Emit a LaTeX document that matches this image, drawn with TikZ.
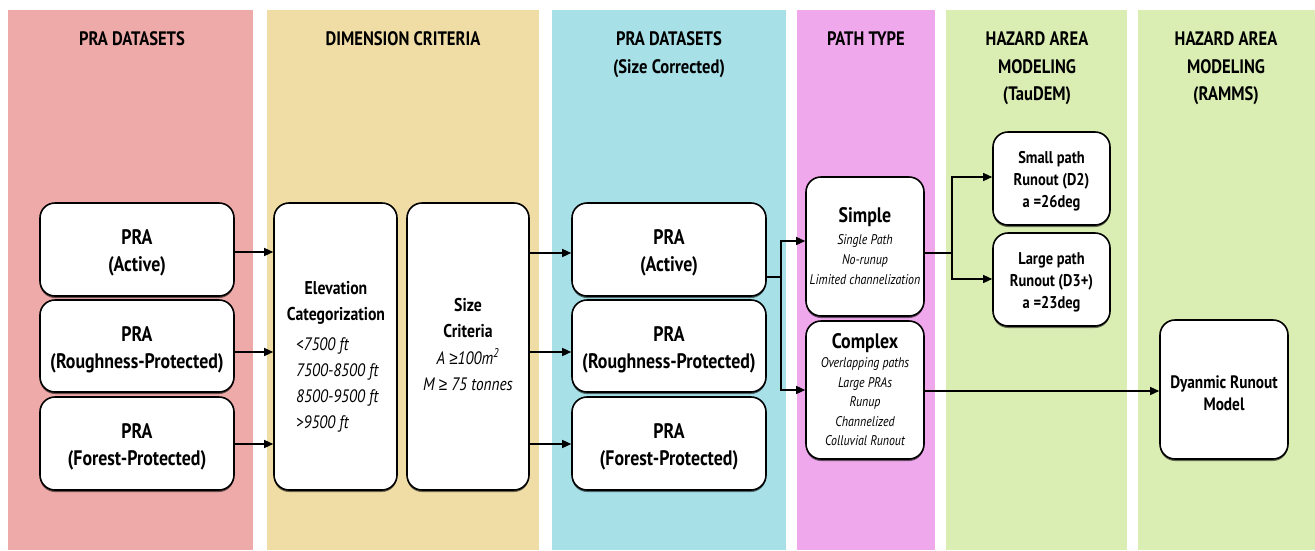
\documentclass[tikz,border=0pt]{standalone}
\usepackage{fontspec}
\setmainfont{PT Sans}[FakeStretch=0.85]
\newfontfamily\symf{Liberation Sans}[FakeStretch=0.85]
\usetikzlibrary{arrows.meta,shadows}
\definecolor{colA}{RGB}{237,170,168}
\definecolor{colB}{RGB}{240,221,165}
\definecolor{colC}{RGB}{168,224,232}
\definecolor{colD}{RGB}{240,168,236}
\definecolor{colE}{RGB}{218,238,179}
\newcommand{\bigf}{\fontsize{18.5}{26.5}\selectfont\bfseries\upshape}
\newcommand{\itf}{\fontsize{18}{26}\selectfont\mdseries\itshape}
\newcommand{\smit}{\fontsize{14}{20}\selectfont\mdseries\itshape}
\newcommand{\geqs}{{\symf\itshape ≥}}
\newcommand{\strutup}[1]{\rule{0pt}{#1}}
\tikzset{
  hdr/.style={font=\fontsize{19.5}{27.5}\selectfont\bfseries, align=center, anchor=north, inner sep=0pt},
  box/.style={draw=black, line width=1.6pt, rounded corners=15pt, fill=white, inner sep=2pt,
    align=center, drop shadow={shadow xshift=0pt, shadow yshift=-2pt, opacity=.55, fill=black}},
  big/.style={font=\fontsize{21}{27}\selectfont\bfseries},
  mid/.style={font=\fontsize{17}{22}\selectfont\bfseries},
  itl/.style={font=\fontsize{18}{26}\selectfont\itshape, inner sep=0pt},
  arr/.style={line width=1.4pt, -{Triangle[length=9pt,width=8pt]}},
  ln/.style={line width=1.4pt}
}
\begin{document}
\begin{tikzpicture}[x=1pt,y=-1pt]
\useasboundingbox (0,0) rectangle (1315,550);
\fill[white] (0,0) rectangle (1315,550);
\fill[colA] (8,10) rectangle (253,550);
\fill[colB] (267,10) rectangle (539,550);
\fill[colC] (552,10) rectangle (786,550);
\fill[colD] (797,10) rectangle (935,550);
\fill[colE] (946,10) rectangle (1127,550);
\fill[colE] (1138,10) rectangle (1315,550);

\node[hdr] (h1) at (132,31.5) {PRA DATASETS};
\node[hdr] (h2) at (403,31.5) {DIMENSION CRITERIA};
\node[hdr] (h3) at (669,31.5) {PRA DATASETS\\(Size Corrected)};
\node[hdr] (h4) at (866,31.5) {PATH TYPE};
\node[hdr] (h5) at (1037,31.5) {HAZARD AREA\\MODELING\\(TauDEM)};
\node[hdr] (h6) at (1226,31.5) {HAZARD AREA\\MODELING\\(RAMMS)};

% column 1
\node[box, big, minimum width=194pt, minimum height=93pt] (p1) at (137,249.5) {\strutup{22pt}PRA\\(Active)};
\node[box, big, minimum width=194pt, minimum height=92pt] (p2) at (137,346) {\strutup{22pt}PRA\\(Roughness-Protected)};
\node[box, big, minimum width=194pt, minimum height=93pt] (p3) at (137,443.5) {\strutup{22pt}PRA\\(Forest-Protected)};

% column 2
\node[box, minimum width=123pt, minimum height=287pt] (elev) at (335.5,346.5) {};
\node[align=center, inner sep=0pt, font=\bigf] (elevt) at (336,303) {Elevation\\Categorization};
\node[itl, anchor=north west, align=left] (elevl) at (296,337) {<7500 ft\\7500-8500 ft\\8500-9500 ft\\>9500 ft};
\node[box, minimum width=122pt, minimum height=287pt] (size) at (468,346.5) {};
\node[align=center, inner sep=0pt, font=\bigf] (sizet) at (468,344.5) {Size\\Criteria\\\itf A \geqs100m\textsuperscript{2}\\\itf M \geqs\ 75 tonnes};

% column 3
\node[box, big, minimum width=194pt, minimum height=93pt] (c1) at (669,249.5) {\strutup{22pt}PRA\\(Active)};
\node[box, big, minimum width=194pt, minimum height=92pt] (c2) at (669,346) {\strutup{22pt}PRA\\(Roughness-Protected)};
\node[box, big, minimum width=194pt, minimum height=93pt] (c3) at (669,443.5) {\strutup{22pt}PRA\\(Forest-Protected)};

% column 4
\node[box, minimum width=118pt, minimum height=139pt, font=\fontsize{21}{20}\selectfont\bfseries] (simple) at (865,246.5)
  {Simple\\[2pt]\smit Single Path\\\smit No-runup\\\smit Limited channelization};
\node[box, minimum width=118pt, minimum height=138pt, font=\fontsize{21}{19.5}\selectfont\bfseries] (complex) at (865,390)
  {Complex\\[-0.5pt]\smit Overlapping paths\\\smit Large PRAs\\\smit Runup\\\smit Channelized\\\smit Colluvial Runout};

% column 5
\node[box, mid, minimum width=117pt, minimum height=93pt] (small) at (1051.5,178.5) {\strutup{18pt}Small path\\Runout (D2)\\a =26deg};
\node[box, mid, minimum width=117pt, minimum height=93pt] (large) at (1051.5,279.5) {\strutup{17pt}Large path\\Runout (D3+)\\a =23deg};

% column 6
\node[box, font=\fontsize{18}{22}\selectfont\bfseries, minimum width=128pt, minimum height=139pt] (dyn) at (1224,389.5) {\strutup{21pt}Dyanmic Runout\\Model};

% connectors
\draw[arr] ([yshift=-2.5pt]p1.east) -- ([yshift=-2.5pt]p1.east -| elev.west);
\draw[arr] ([yshift=-6pt]p2.east) -- ([yshift=-6pt]p2.east -| elev.west);
\draw[arr] ([yshift=-0.5pt]p3.east) -- ([yshift=-0.5pt]p3.east -| elev.west);

\draw[arr] ([yshift=-3.5pt]c1.west -| size.east) -- ([yshift=-3.5pt]c1.west);
\draw[arr] ([yshift=-6pt]c2.west -| size.east) -- ([yshift=-6pt]c2.west);
\draw[arr] ([yshift=-0.5pt]c3.west -| size.east) -- ([yshift=-0.5pt]c3.west);

\coordinate (j1) at (781,277);
\draw[ln] ([yshift=-27.5pt]c1.east) -- (j1);
\draw[arr] (j1) |- ([yshift=5.5pt]simple.west);
\draw[arr] (j1) |- (complex.west);

\coordinate (j2) at (952,253);
\draw[ln] ([yshift=-6.5pt]simple.east) -- (j2);
\draw[arr] (j2) |- ([yshift=1.5pt]small.west);
\draw[arr] (j2) |- ([yshift=0.5pt]large.west);

\draw[arr] ([yshift=-1pt]complex.east) -- ([yshift=-1pt]complex.east -| dyn.west);
\end{tikzpicture}
\end{document}
